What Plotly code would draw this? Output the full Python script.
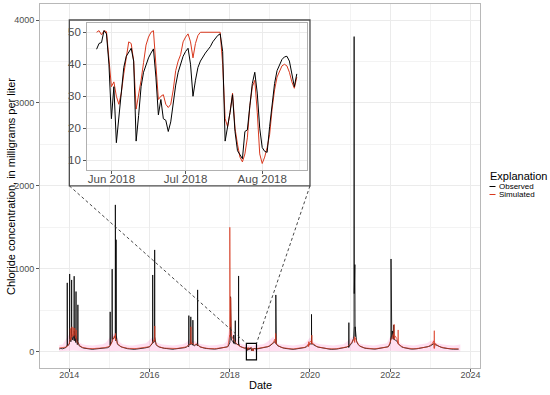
import pandas as pd
import plotly.graph_objects as go

# ---------------- data ----------------
# semi-monthly baseline values (1st and 15th of each month), Oct 2013 .. Sep 2023
obs_baseline = [
    32, 38, 35, 45, 50, 70,                                                          # 2013 Oct-Dec
    90, 120, 140, 130, 110, 85, 70, 55, 48, 42, 38, 35, 33, 30, 28, 31, 34, 30, 36, 40, 38, 45, 50, 48,   # 2014
    60, 95, 150, 170, 130, 90, 70, 60, 52, 45, 40, 36, 34, 30, 32, 28, 31, 35, 38, 42, 40, 44, 48, 52,    # 2015
    58, 80, 110, 120, 85, 65, 55, 48, 44, 40, 38, 35, 33, 30, 29, 32, 34, 37, 40, 43, 45, 48, 55, 70,     # 2016
    85, 95, 80, 70, 90, 75, 60, 52, 46, 42, 38, 35, 32, 30, 28, 31, 33, 36, 39, 42, 45, 47, 52, 60,       # 2017
    110, 140, 120, 100, 95, 80, 65, 55, 48, 42, 38, 35, 33, 30, 28, 26, 32, 35, 38, 42, 45, 48, 55, 60,   # 2018
    70, 85, 95, 120, 90, 70, 58, 50, 45, 40, 36, 33, 31, 29, 28, 30, 33, 36, 40, 44, 47, 50, 60, 75,      # 2019
    95, 110, 85, 70, 62, 55, 50, 45, 42, 38, 35, 32, 30, 28, 27, 29, 32, 35, 38, 41, 44, 48, 55, 65,      # 2020
    80, 100, 160, 180, 120, 85, 65, 55, 48, 42, 38, 35, 33, 30, 29, 31, 34, 37, 40, 43, 46, 49, 54, 60,   # 2021
    100, 150, 170, 140, 130, 95, 70, 58, 50, 44, 40, 36, 33, 31, 30, 32, 35, 38, 41, 44, 47, 50, 55, 62,  # 2022
    70, 80, 95, 85, 75, 65, 56, 50, 45, 41, 38, 35, 33, 31, 30, 32, 34, 30,                              # 2023 Jan-Sep
]
sim_baseline = [
    45, 48, 46, 50, 55, 65,
    100, 140, 180, 200, 160, 110, 80, 62, 52, 46, 42, 40, 38, 36, 35, 37, 40, 38, 42, 45, 44, 48, 52, 55,
    65, 90, 160, 190, 150, 100, 75, 62, 54, 48, 44, 41, 39, 37, 36, 35, 38, 40, 42, 45, 44, 47, 50, 55,
    60, 85, 130, 150, 95, 70, 58, 50, 46, 43, 41, 39, 37, 35, 34, 36, 38, 40, 43, 45, 47, 50, 58, 72,
    90, 110, 95, 80, 95, 78, 62, 54, 48, 44, 41, 39, 37, 35, 34, 36, 38, 40, 42, 45, 47, 49, 55, 65,
    180, 200, 150, 120, 100, 82, 66, 56, 50, 46, 42, 40, 38, 36, 34, 33, 36, 39, 41, 44, 47, 50, 56, 62,
    75, 90, 110, 150, 100, 75, 60, 52, 47, 43, 40, 38, 36, 34, 33, 35, 37, 40, 43, 46, 49, 52, 65, 90,
    120, 130, 95, 75, 65, 57, 51, 47, 44, 41, 38, 36, 34, 33, 32, 34, 36, 38, 41, 44, 46, 50, 57, 68,
    85, 110, 150, 170, 130, 90, 68, 57, 50, 45, 41, 39, 37, 35, 34, 35, 37, 40, 42, 45, 48, 50, 55, 62,
    120, 170, 220, 190, 160, 110, 75, 60, 52, 47, 43, 40, 37, 35, 34, 35, 37, 40, 43, 46, 48, 51, 56, 64,
    75, 90, 130, 100, 80, 68, 58, 52, 47, 43, 40, 38, 36, 34, 33, 35, 36, 34,
]

# storm / road-salt spike events (date, value)
obs_spike_dates = [
    "2013-12-12", "2013-12-13", "2013-12-14", "2014-01-03", "2014-01-04", "2014-01-05",
    "2014-01-21", "2014-01-22", "2014-01-23", "2014-02-13", "2014-02-14", "2014-02-15",
    "2014-03-02", "2014-03-03", "2014-03-04", "2014-03-19", "2014-03-20", "2014-03-21",
    "2015-01-07", "2015-01-08", "2015-01-09", "2015-01-25", "2015-01-26", "2015-01-27",
    "2015-02-23", "2015-02-24", "2015-02-25", "2015-03-02", "2015-03-03", "2015-03-04",
    "2016-01-29", "2016-01-30", "2016-01-31", "2016-02-16", "2016-02-17", "2016-02-18",
    "2016-12-23", "2016-12-24", "2016-12-25", "2017-01-10", "2017-01-11", "2017-01-12",
    "2017-01-29", "2017-01-30", "2017-01-31", "2017-03-13", "2017-03-14", "2017-03-15",
    "2018-01-07", "2018-01-08", "2018-01-09", "2018-02-05", "2018-02-06", "2018-02-07",
    "2018-02-19", "2018-02-20", "2018-02-21", "2018-03-21", "2018-03-22", "2018-03-23",
    "2019-02-23", "2019-02-24", "2019-02-25", "2020-01-14", "2020-01-15", "2020-01-16",
    "2020-12-19", "2020-12-20", "2020-12-21",
    "2021-02-05", "2021-02-06", "2021-02-07", "2021-02-09", "2021-02-10", "2021-02-11",
    "2021-02-13", "2021-02-15",
    "2022-01-07", "2022-01-08", "2022-01-09", "2022-01-20", "2022-02-01", "2022-02-02", "2022-02-03",
]
obs_spike_vals = [
    80, 830, 120, 150, 937, 200,
    180, 865, 220, 200, 910, 250,
    180, 725, 200, 150, 565, 120,
    70, 480, 80, 120, 995, 150,
    200, 1770, 400, 300, 1350, 200,
    100, 925, 140, 150, 1227, 180,
    60, 435, 80, 90, 420, 90,
    80, 380, 80, 70, 745, 90,
    200, 663, 250, 100, 200, 120,
    90, 374, 110, 80, 913, 100,
    100, 684, 120, 90, 450, 100,
    50, 350, 60,
    300, 3800, 700, 1146, 1327, 900,
    1050, 300,
    200, 1118, 300, 250, 150, 322, 150,
]
sim_spike_dates = [
    "2014-01-09", "2014-01-10", "2014-01-11", "2014-01-24", "2014-01-25", "2014-01-26",
    "2014-02-04", "2014-02-05", "2014-02-06", "2014-02-19", "2014-02-20", "2014-02-21",
    "2014-03-04", "2014-03-05", "2014-03-06", "2015-02-24", "2015-02-25", "2015-02-26",
    "2016-02-17", "2016-02-18", "2016-02-19", "2017-01-11", "2017-01-12", "2017-01-13",
    "2017-12-31", "2018-01-01", "2018-01-02", "2018-01-04", "2018-01-05", "2018-01-09", "2018-01-10",
    "2019-02-21", "2019-02-22", "2019-02-23", "2019-12-19", "2019-12-20", "2019-12-21",
    "2020-01-17", "2020-01-18", "2020-01-19", "2021-02-09", "2021-02-10", "2021-02-11",
    "2022-02-04", "2022-02-05", "2022-02-06", "2022-03-13", "2022-03-14", "2022-03-15",
    "2023-02-05", "2023-02-06", "2023-02-07",
]
sim_spike_vals = [
    150, 280, 180, 200, 300, 200,
    210, 290, 200, 200, 285, 190,
    180, 260, 150, 150, 220, 140,
    130, 310, 120, 100, 300, 90,
    200, 1500, 400, 1020, 300, 650, 200,
    100, 220, 110, 60, 120, 70,
    90, 200, 100, 120, 180, 110,
    150, 330, 150, 100, 262, 90,
    40, 253, 40,
]

# daily values, 26 May 2018 .. 15 Aug 2018 (inset period)
inset_start, inset_end = "2018-05-26", "2018-08-15"
obs_inset = [
    44.7, 46.5, 46.8, 50.5, 49.5, 40,
    23, 33, 15.5, 24, 33, 39, 42.5, 44, 45, 41,
    16, 24, 33, 37.5, 40, 42, 43.5, 44.8, 36, 24.2,
    29, 23, 22.5, 19, 22, 28, 33.5, 37.5, 40, 42.5,
    44, 45, 40, 30, 35, 39, 41, 42.5, 43.5, 44.5,
    45.5, 47, 48, 49, 49.5, 44, 16, 20, 25, 30.5,
    19, 13, 11.5, 10.5, 19, 19.5, 27, 34, 37.5, 31,
    20, 14, 12.8, 12.5, 20.5, 27, 34, 38, 40, 41.5,
    42.3, 42.5, 41, 37, 33, 37,
]
sim_inset = [
    50, 50.5, 49.2, 50.5, 50.2, 42,
    33, 34.5, 30, 27.5, 31, 37, 41.5, 47, 46.5, 41,
    26, 30, 35, 40.5, 46, 48.5, 50, 50.5, 38, 29,
    30, 30.5, 27.5, 26.5, 27.5, 32, 38, 41, 43, 47,
    48.5, 49.5, 47, 42, 46.5, 49, 50, 50, 50, 50,
    50, 50, 50, 50, 50, 40, 23, 20.5, 25, 31,
    20, 15, 11, 9.5, 12, 17, 27, 33, 35, 25,
    12, 9, 11, 14, 18, 26, 32, 36, 38, 39.5,
    40, 39.5, 37.5, 34.5, 32.5, 36,
]

# monthly uncertainty band of simulated values, Oct 2013 .. Oct 2023
band_upper = [
    80, 85, 150,
    210, 220, 200, 110, 90, 80, 75, 75, 80, 85, 90, 110,
    160, 220, 210, 120, 90, 80, 75, 75, 80, 85, 90, 100,
    140, 180, 120, 95, 85, 80, 75, 75, 80, 85, 90, 110,
    150, 130, 120, 95, 85, 80, 75, 75, 80, 85, 90, 120,
    300, 220, 160, 100, 85, 80, 75, 75, 80, 85, 90, 110,
    140, 180, 110, 90, 85, 80, 75, 75, 80, 85, 90, 120,
    170, 120, 100, 90, 85, 80, 75, 75, 80, 85, 90, 120,
    150, 190, 130, 95, 85, 80, 75, 75, 80, 85, 90, 100,
    180, 200, 160, 100, 85, 80, 75, 75, 80, 85, 90, 100,
    130, 140, 100, 90, 85, 80, 75, 75, 80, 85,
]
band_lower = [
    5, 5, 8,
    12, 15, 12, 8, 5, 4, 3, 3, 3, 4, 5, 6,
    10, 14, 12, 8, 5, 4, 3, 3, 3, 4, 5, 6,
    9, 12, 8, 6, 5, 4, 3, 3, 3, 4, 5, 6,
    9, 8, 7, 6, 5, 4, 3, 3, 3, 4, 5, 7,
    15, 12, 9, 6, 5, 4, 3, 3, 3, 4, 5, 6,
    8, 10, 7, 6, 5, 4, 3, 3, 3, 4, 5, 7,
    10, 8, 6, 5, 5, 4, 3, 3, 3, 4, 5, 7,
    9, 12, 8, 6, 5, 4, 3, 3, 3, 4, 5, 6,
    11, 12, 9, 6, 5, 4, 3, 3, 3, 4, 5, 6,
    8, 9, 6, 5, 5, 4, 3, 3, 3, 4,
]

x_ticks_main = [2014, 2016, 2018, 2020, 2022, 2024]
y_ticks_main = [0, 1000, 2000, 3000, 4000]
y_ticks_inset = [10, 20, 30, 40, 50]
inset_months = ["2018-06-01", "2018-07-01", "2018-08-01"]
series_names = ["Observed", "Simulated"]

# ---------------- assemble series ----------------
def semi_monthly_dates():
    out = []
    y, m = 2013, 10
    while (y, m) <= (2023, 9):
        out += [pd.Timestamp(y, m, 1), pd.Timestamp(y, m, 15)]
        m += 1
        if m > 12:
            m, y = 1, y + 1
    return out

base_dates = semi_monthly_dates()
inset_dates = list(pd.date_range(inset_start, inset_end, freq="D"))
win0, win1 = pd.Timestamp("2018-05-22"), pd.Timestamp("2018-08-19")

def build(base_vals, spike_d, spike_v, inset_vals):
    pts = [(d, v) for d, v in zip(base_dates, base_vals) if not (win0 <= d <= win1)]
    pts += [(pd.Timestamp(d), v) for d, v in zip(spike_d, spike_v)]
    pts += list(zip(inset_dates, inset_vals))
    pts.sort(key=lambda p: p[0])
    return [p[0] for p in pts], [p[1] for p in pts]

obs_x, obs_y = build(obs_baseline, obs_spike_dates, obs_spike_vals, obs_inset)
sim_x, sim_y = build(sim_baseline, sim_spike_dates, sim_spike_vals, sim_inset)
band_dates = list(pd.date_range("2013-10-01", "2023-10-01", freq="MS"))

OBS_C = "#000000"
SIM_C = "#D9381E"
FONT = "Liberation Sans, Arial, sans-serif"
TICK_C = "#4d4d4d"
GRID = "#ebebeb"
GRID_MINOR = "#f3f3f3"

fig = go.Figure()
# band
fig.add_trace(go.Scatter(x=band_dates, y=band_lower, mode="lines", line=dict(width=0),
                         hoverinfo="skip", showlegend=False))
fig.add_trace(go.Scatter(x=band_dates, y=band_upper, mode="lines", line=dict(width=0),
                         fill="tonexty", fillcolor="rgba(255,110,190,0.22)",
                         hoverinfo="skip", showlegend=False))
fig.add_trace(go.Scatter(x=obs_x, y=obs_y, mode="lines", name=series_names[0],
                         line=dict(color=OBS_C, width=0.8), showlegend=False))
fig.add_trace(go.Scatter(x=sim_x, y=sim_y, mode="lines", name=series_names[1],
                         line=dict(color=SIM_C, width=0.8), opacity=0.9, showlegend=False))
# inset traces
fig.add_trace(go.Scatter(x=inset_dates, y=sim_inset, mode="lines", name=series_names[1],
                         line=dict(color=SIM_C, width=1), xaxis="x2", yaxis="y2", showlegend=False))
fig.add_trace(go.Scatter(x=inset_dates, y=obs_inset, mode="lines", name=series_names[0],
                         line=dict(color=OBS_C, width=1), xaxis="x2", yaxis="y2", showlegend=False))

W, H = 550, 395
L, R, T, B = 40, 70, 4, 27
pw, ph = W - L - R, H - T - B
def px_x(p):
    return (p - L) / pw
def px_y(p):
    return (H - B - p) / ph

fig.update_layout(
    width=W, height=H,
    margin=dict(l=L, r=R, t=T, b=B, autoexpand=False),
    paper_bgcolor="white", plot_bgcolor="white",
    font=dict(family=FONT, color="black"),
    showlegend=False,
    xaxis=dict(
        type="date", range=["2013-04-09", "2024-03-28"],
        tickvals=[f"{y}-01-01" for y in x_ticks_main], ticktext=[str(y) for y in x_ticks_main],
        showgrid=True, gridcolor=GRID, gridwidth=1,
        minor=dict(tickvals=[f"{y}-01-01" for y in [2013, 2015, 2017, 2019, 2021, 2023]],
                   showgrid=True, gridcolor=GRID_MINOR, gridwidth=0.6, ticks=""),
        showline=True, mirror=True, linecolor="#b8b8b8", linewidth=1,
        ticks="outside", ticklen=3, tickcolor="#555", tickwidth=0.8,
        tickfont=dict(size=9, color=TICK_C), zeroline=False, ticklabelstandoff=-5,
        automargin=False,
    ),
    yaxis=dict(
        range=[-197, 4193], tickvals=y_ticks_main,
        showgrid=True, gridcolor=GRID, gridwidth=1,
        minor=dict(dtick=500, tick0=500, showgrid=True, gridcolor=GRID_MINOR, gridwidth=0.6, ticks=""),
        showline=True, mirror=True, linecolor="#b8b8b8", linewidth=1,
        ticks="outside", ticklen=3, tickcolor="#555", tickwidth=0.8,
        tickfont=dict(size=9, color=TICK_C), zeroline=False,
        automargin=False,
    ),
    xaxis2=dict(
        type="date", domain=[px_x(86.7), px_x(306.7)], anchor="y2",
        range=["2018-05-22", "2018-08-19"],
        tickvals=inset_months, tickformat="%b %Y",
        showgrid=True, gridcolor=GRID, gridwidth=1,
        minor=dict(tickvals=["2018-05-16", "2018-06-16", "2018-07-16", "2018-08-16"],
                   showgrid=True, gridcolor=GRID_MINOR, gridwidth=0.6, ticks=""),
        showline=True, mirror=True, linecolor="#b0b0b0", linewidth=1,
        ticks="outside", ticklen=2.5, tickcolor="#555", tickwidth=0.8,
        tickfont=dict(size=11.5, color=TICK_C), zeroline=False, automargin=False,
        ticklabelstandoff=-4,
    ),
    yaxis2=dict(
        domain=[px_y(170), px_y(23.3)], anchor="x2",
        range=[6.97, 52.8], tickvals=y_ticks_inset,
        showgrid=True, gridcolor=GRID, gridwidth=1,
        minor=dict(dtick=10, tick0=5, showgrid=True, gridcolor=GRID_MINOR, gridwidth=0.6, ticks=""),
        showline=True, mirror=True, linecolor="#b0b0b0", linewidth=1,
        ticks="outside", ticklen=2.5, tickcolor="#555", tickwidth=0.8,
        tickfont=dict(size=11.5, color=TICK_C), zeroline=False, automargin=False,
    ),
)

# axis titles
fig.add_annotation(xref="paper", yref="paper", x=px_x(260), y=px_y(385), xanchor="center", yanchor="middle",
                   text="Date", showarrow=False, font=dict(size=11, color="black"))
fig.add_annotation(xref="paper", yref="paper", x=px_x(11), y=px_y(187), xanchor="center", yanchor="middle",
                   text="Chloride concentration, in milligrams per liter", textangle=-90,
                   showarrow=False, font=dict(size=11, color="black"))

# inset frame (white, covering main gridlines) placed in main data space
fig.add_shape(type="rect", xref="x", yref="y", x0="2014-01-01", x1="2020-01-01", y0=2000, y1=4000,
              fillcolor="white", line=dict(color="#4d4d4d", width=1.3), layer="between")
# zoom window on main plot
fig.add_shape(type="rect", xref="x", yref="y", x0="2018-06-01", x1="2018-09-01", y0=-100, y1=100,
              line=dict(color="black", width=1.2), layer="above")
# connectors
fig.add_shape(type="line", xref="x", yref="y", x0="2014-01-01", y0=2000, x1="2018-06-01", y1=100,
              line=dict(color="#333333", width=0.9, dash="3px,2.5px"), layer="above")
fig.add_shape(type="line", xref="x", yref="y", x0="2020-01-01", y0=2000, x1="2018-09-01", y1=100,
              line=dict(color="#333333", width=0.9, dash="3px,2.5px"), layer="above")

# legend (ggplot style)
fig.add_annotation(xref="paper", yref="paper", x=px_x(488), y=px_y(175.5), xanchor="left", yanchor="middle",
                   text="Explanation", showarrow=False, font=dict(size=11, color="black"))
for i, (nm, col) in enumerate(zip(series_names, [OBS_C, SIM_C])):
    yy = px_y(186.5 + 8 * i)
    fig.add_shape(type="line", xref="paper", yref="paper", x0=px_x(489.5), x1=px_x(495.5), y0=yy, y1=yy,
                  line=dict(color=col, width=1))
    fig.add_annotation(xref="paper", yref="paper", x=px_x(497), y=yy, xanchor="left", yanchor="middle",
                       text=nm, showarrow=False, font=dict(size=8, color="black"))

fig.write_html("out.html", config={"displayModeBar": False},
               post_script="document.body.style.margin='0';document.body.style.padding='0';")
